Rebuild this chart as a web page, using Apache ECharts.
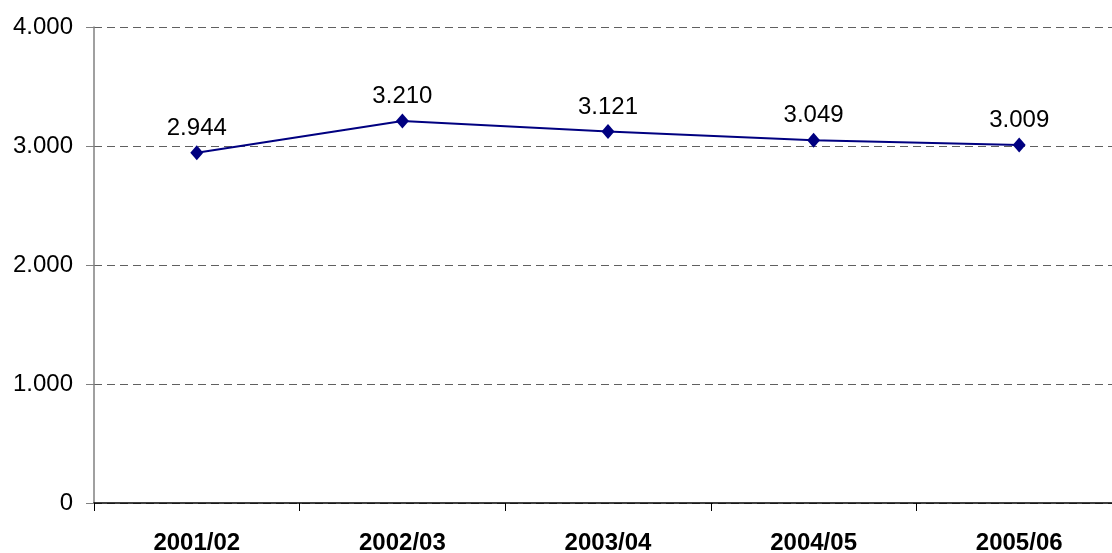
<!DOCTYPE html>
<html>
<head>
<meta charset="utf-8">
<title></title>
<script type="text/javascript" src="https://cdn.jsdelivr.net/npm/echarts@6/dist/echarts.min.js"></script>
<style>
html, body { margin: 0; padding: 0; background: #fff; }
#chart { width: 1112px; height: 553px; }
</style>
</head>
<body>
<div id="chart"></div>
<script type="text/javascript">
var years = ['2001/02', '2002/03', '2003/04', '2004/05', '2005/06'];
var values = [2944, 3210, 3121, 3049, 3009];
var yTicks = [0, 1000, 2000, 3000, 4000];

// 1234 -> "1.234"
function fmt(v) {
    return String(Math.round(v)).replace(/\B(?=(\d{3})+(?!\d))/g, '.');
}

var myChart = echarts.init(document.getElementById('chart'));
var option = {
    animation: false,
    grid: {
        left: 94,
        top: 27,
        width: 1028,
        height: 476,
        containLabel: false,
        outerBoundsMode: 'none'
    },
    xAxis: {
        type: 'category',
        data: years,
        boundaryGap: true,
        axisLine: { lineStyle: { color: '#000', width: 1.5 } },
        axisTick: { show: true, length: 8, alignWithLabel: false, lineStyle: { color: '#000' } },
        axisLabel: {
            margin: 28,
            color: '#000',
            fontFamily: 'Liberation Sans, Arial, sans-serif',
            fontWeight: 'bold',
            fontSize: 24
        },
        splitLine: { show: false }
    },
    yAxis: {
        type: 'value',
        min: yTicks[0],
        max: yTicks[yTicks.length - 1],
        interval: 1000,
        axisLine: { show: true, lineStyle: { color: '#808080', width: 1.5 } },
        axisTick: { show: true, length: 8, lineStyle: { color: '#808080' } },
        axisLabel: {
            margin: 21,
            padding: [6, 0, 0, 0],
            color: '#000',
            fontFamily: 'Liberation Sans, Arial, sans-serif',
            fontSize: 24,
            formatter: function (v) { return fmt(v); }
        },
        splitLine: {
            show: true,
            lineStyle: { color: '#606060', type: [8, 5], width: 1 }
        }
    },
    series: [{
        type: 'line',
        data: values,
        symbol: 'diamond',
        symbolSize: [13, 15],
        lineStyle: { color: '#000080', width: 2 },
        itemStyle: { color: '#000080' },
        label: {
            show: true,
            position: 'top',
            distance: 5,
            color: '#000',
            fontFamily: 'Liberation Sans, Arial, sans-serif',
            fontSize: 24,
            formatter: function (p) { return fmt(p.value); }
        }
    }]
};
myChart.setOption(option);
</script>
</body>
</html>
